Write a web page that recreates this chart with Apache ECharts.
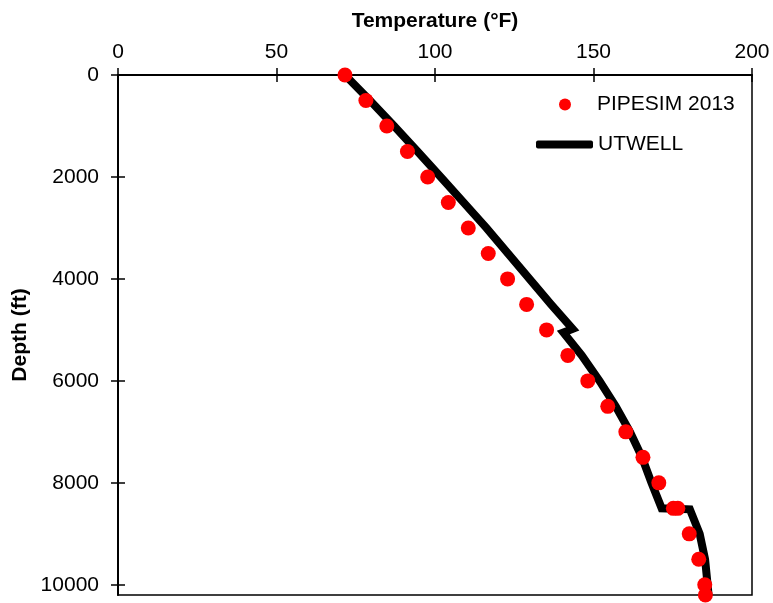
<!DOCTYPE html>
<html>
<head>
<meta charset="utf-8">
<script src="https://cdn.jsdelivr.net/npm/echarts@6/dist/echarts.min.js"></script>
<style>
html,body{margin:0;padding:0;background:#fff;}
#chart{width:773px;height:603px;}
</style>
</head>
<body>
<div id="chart"></div>
<script>
// PIPESIM 2013 (scatter)
const pipesimDepth = [0, 500, 1000, 1500, 2000, 2500, 3000, 3500, 4000, 4500, 5000, 5500, 6000, 6500, 7000, 7500, 8000, 8500, 8500, 9000, 9500, 10000, 10200];
const pipesimTemp  = [71.6, 78.2, 84.8, 91.3, 97.7, 104.2, 110.5, 116.8, 122.9, 128.9, 135.2, 141.9, 148.2, 154.5, 160.2, 165.6, 170.6, 175.2, 176.6, 180.2, 183.2, 185.1, 185.3];
// UTWELL (line)
const utwellDepth = [0, 500, 1000, 1500, 2000, 2500, 3000, 3500, 4000, 4500, 4980, 5050, 5500, 6000, 6500, 7000, 7500, 8000, 8500, 8520, 9000, 9500, 10000, 10200];
const utwellTemp  = [71.6, 79.5, 87.1, 94.5, 101.8, 109.0, 116.2, 123.0, 129.8, 136.6, 143.4, 140.5, 146.3, 151.9, 157.0, 161.5, 165.3, 168.3, 171.5, 180.4, 183.5, 185.2, 186.0, 186.3];
// axis ticks
const tempTicks = [0, 50, 100, 150, 200];
const depthTicks = [0, 2000, 4000, 6000, 8000, 10000];

const FONT = '"Liberation Sans", Arial, sans-serif';
const chart = echarts.init(document.getElementById('chart'), null, {renderer: 'canvas'});

const xBase = {
  type: 'value', min: 0, max: 200, interval: 50, position: 'top', gridIndex: 0,
  splitLine: {show: false}
};
const yBase = {
  type: 'value', min: 0, max: 10200, inverse: true, position: 'left', gridIndex: 0,
  splitLine: {show: false}
};

chart.setOption({
  animation: false,
  backgroundColor: '#fff',
  textStyle: {fontFamily: FONT},
  grid: {left: 118, top: 75, right: 21, bottom: 8, containLabel: false, outerBoundsMode: 'none',
         show: true, borderColor: '#000', borderWidth: 1.5, backgroundColor: 'transparent'},
  legend: [
    {
      data: [{name: 'PIPESIM 2013', icon: 'circle'}],
      left: 559, top: 94, padding: 0, itemWidth: 12, itemHeight: 12,
      textStyle: {fontSize: 21, color: '#000', fontFamily: FONT, padding: [0, 0, 0, 21]}
    },
    {
      data: [{name: 'UTWELL', icon: 'roundRect'}],
      left: 536, top: 134, padding: 0, itemWidth: 57, itemHeight: 8,
      textStyle: {fontSize: 21, color: '#000', fontFamily: FONT}
    }
  ],
  xAxis: [
    Object.assign({}, xBase, {
      name: 'Temperature (°F)', nameLocation: 'middle', nameGap: 43, nameMoveOverlap: false,
      nameTextStyle: {fontSize: 21, fontWeight: 'bold', color: '#000', fontFamily: FONT},
      axisLine: {show: true, lineStyle: {color: '#000', width: 2}},
      axisTick: {show: true, inside: false, length: 7, lineStyle: {color: '#000', width: 1.5}, customValues: tempTicks},
      axisLabel: {show: true, margin: 12, fontSize: 21, color: '#000', fontFamily: FONT, customValues: tempTicks,
                  formatter: v => String(v)}
    }),
    Object.assign({}, xBase, {
      axisLine: {show: false},
      axisTick: {show: true, inside: true, length: 7, lineStyle: {color: '#000', width: 1.5}, customValues: tempTicks},
      axisLabel: {show: false}
    })
  ],
  yAxis: [
    Object.assign({}, yBase, {
      name: 'Depth (ft)', nameLocation: 'middle', nameGap: 87, nameRotate: 90, nameMoveOverlap: false,
      nameTextStyle: {fontSize: 21, fontWeight: 'bold', color: '#000', fontFamily: FONT},
      axisLine: {show: true, lineStyle: {color: '#000', width: 2}},
      axisTick: {show: true, inside: false, length: 7, lineStyle: {color: '#000', width: 1.5}, customValues: depthTicks},
      axisLabel: {show: true, margin: 19, fontSize: 21, color: '#000', fontFamily: FONT, customValues: depthTicks,
                  formatter: v => String(v)}
    }),
    Object.assign({}, yBase, {
      axisLine: {show: false},
      axisTick: {show: true, inside: true, length: 7, lineStyle: {color: '#000', width: 1.5}, customValues: depthTicks},
      axisLabel: {show: false}
    })
  ],
  series: [
    {
      name: 'UTWELL', type: 'line', xAxisIndex: 0, yAxisIndex: 0,
      data: utwellTemp.map((t, i) => [t, utwellDepth[i]]),
      showSymbol: false, symbol: 'none', smooth: false, clip: false,
      lineStyle: {color: '#000', width: 8, join: 'miter', cap: 'butt'},
      itemStyle: {color: '#000'}, z: 2
    },
    {
      name: 'PIPESIM 2013', type: 'scatter', xAxisIndex: 0, yAxisIndex: 0,
      data: pipesimTemp.map((t, i) => [t, pipesimDepth[i]]),
      symbol: 'circle', symbolSize: 15, clip: false,
      itemStyle: {color: '#ff0000', opacity: 1}, z: 3
    }
  ]
});
</script>
</body>
</html>
